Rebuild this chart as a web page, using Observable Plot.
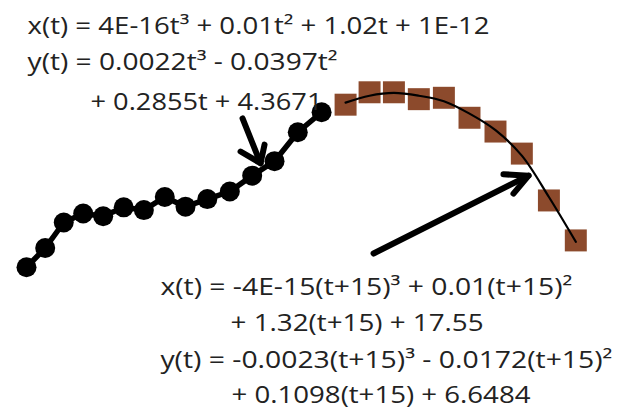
<!DOCTYPE html>
<html>
<head>
<meta charset="utf-8">
<script src="https://cdn.jsdelivr.net/npm/d3@7"></script>
<script src="https://cdn.jsdelivr.net/npm/@observablehq/plot@0.6"></script>
<style>
  html, body { margin: 0; padding: 0; background: #ffffff; }
  #chart svg { display: block; }
</style>
</head>
<body>
<div id="chart"></div>
<script>
// ---- data (in the chart's own x/y units) ----
const blackX = [0, 1.03, 2.05, 3.12, 4.22, 5.35, 6.46, 7.61, 8.75, 9.95, 11.19, 12.42, 13.65, 14.93, 16.24];
const blackY = [4.37, 4.65, 5.02, 5.15, 5.11, 5.24, 5.20, 5.39, 5.25, 5.36, 5.47, 5.70, 5.91, 6.33, 6.62];

const brownX = [17.56, 18.88, 20.22, 21.59, 22.97, 24.38, 25.81, 27.26, 28.75, 30.23];
const brownY = [6.73, 6.91, 6.91, 6.81, 6.83, 6.54, 6.34, 6.02, 5.34, 4.76];

const fitX = [17.56, 18.88, 20.22, 21.59, 22.97, 24.38, 25.81, 27.26, 28.75, 30.23];
const fitY = [6.76, 6.86, 6.90, 6.86, 6.78, 6.60, 6.36, 5.99, 5.39, 4.74];

// arrows: shaft start, tip, two wing ends
const arrowIds   = ["a1", "a2"];
const arrowStart = [[11.89, 6.53], [19.10, 4.57]];
const arrowTip   = [[12.88, 5.88], [27.63, 5.70]];
const arrowWingA = [[11.78, 6.05], [26.25, 5.72]];
const arrowWingB = [[13.10, 6.15], [26.80, 5.44]];

// equation labels
const labelText = [
  "x(t) = 4E-16t³ + 0.01t² + 1.02t + 1E-12",
  "y(t) = 0.0022t³ - 0.0397t²",
  "+ 0.2855t + 4.3671",
  "x(t) = -4E-15(t+15)³ + 0.01(t+15)²",
  "+ 1.32(t+15) + 17.55",
  "y(t) = -0.0023(t+15)³ - 0.0172(t+15)²",
  "+ 0.1098(t+15) + 6.6484"
];
const labelX = [0.06, 0.06, 3.52, 7.37, 11.23, 7.37, 11.28];
const labelY = [7.75, 7.23, 6.66, 3.97, 3.45, 2.91, 2.40];

// ---- layout (not data) ----
const labelWidths = [462, 310, 232, 412, 253, 452, 299];

// ---- build tables ----
const black = blackX.map((x, i) => ({x, y: blackY[i]}));
const brown = brownX.map((x, i) => ({x, y: brownY[i]}));
const fit = fitX.map((x, i) => ({x, y: fitY[i]}));
const arrowPaths = [];
arrowIds.forEach((id, i) => {
  arrowPaths.push({z: id + "s", x: arrowStart[i][0], y: arrowStart[i][1]});
  arrowPaths.push({z: id + "s", x: arrowTip[i][0], y: arrowTip[i][1]});
  arrowPaths.push({z: id + "h", x: arrowWingA[i][0], y: arrowWingA[i][1]});
  arrowPaths.push({z: id + "h", x: arrowTip[i][0], y: arrowTip[i][1]});
  arrowPaths.push({z: id + "h", x: arrowWingB[i][0], y: arrowWingB[i][1]});
});
const labels = labelText.map((t, i) => ({t, x: labelX[i], y: labelY[i]}));

const chart = Plot.plot({
  width: 626,
  height: 411,
  margin: 0,
  x: {domain: [-1.431, 33.02], axis: null},
  y: {domain: [2.277, 8.242], axis: null},
  style: {background: "#ffffff"},
  marks: [
    Plot.line(black, {x: "x", y: "y", stroke: "#000", strokeWidth: 5.5, strokeLinejoin: "round"}),
    Plot.dot(black, {x: "x", y: "y", r: 10, fill: "#000", stroke: "none"}),
    Plot.dot(brown, {x: "x", y: "y", symbol: "square", r: 12.4, fill: "#8c4a2c", stroke: "none"}),
    Plot.line(fit, {x: "x", y: "y", curve: "catmull-rom", stroke: "#000", strokeWidth: 2.2}),
    Plot.line(arrowPaths, {x: "x", y: "y", z: "z", stroke: "#000", strokeWidth: 6, strokeLinecap: "round", strokeLinejoin: "round"}),
    Plot.text(labels, {x: "x", y: "y", text: "t", textAnchor: "start", lineAnchor: "bottom",
      fontSize: 24, fontFamily: "Open Sans", fill: "#222"})
  ]
});

d3.select(chart).selectAll("text").each(function() {
  const i = labelText.indexOf(this.textContent);
  if (i >= 0) {
    this.setAttribute("textLength", labelWidths[i]);
    this.setAttribute("lengthAdjust", "spacingAndGlyphs");
  }
});

document.getElementById("chart").appendChild(chart);
</script>
</body>
</html>
